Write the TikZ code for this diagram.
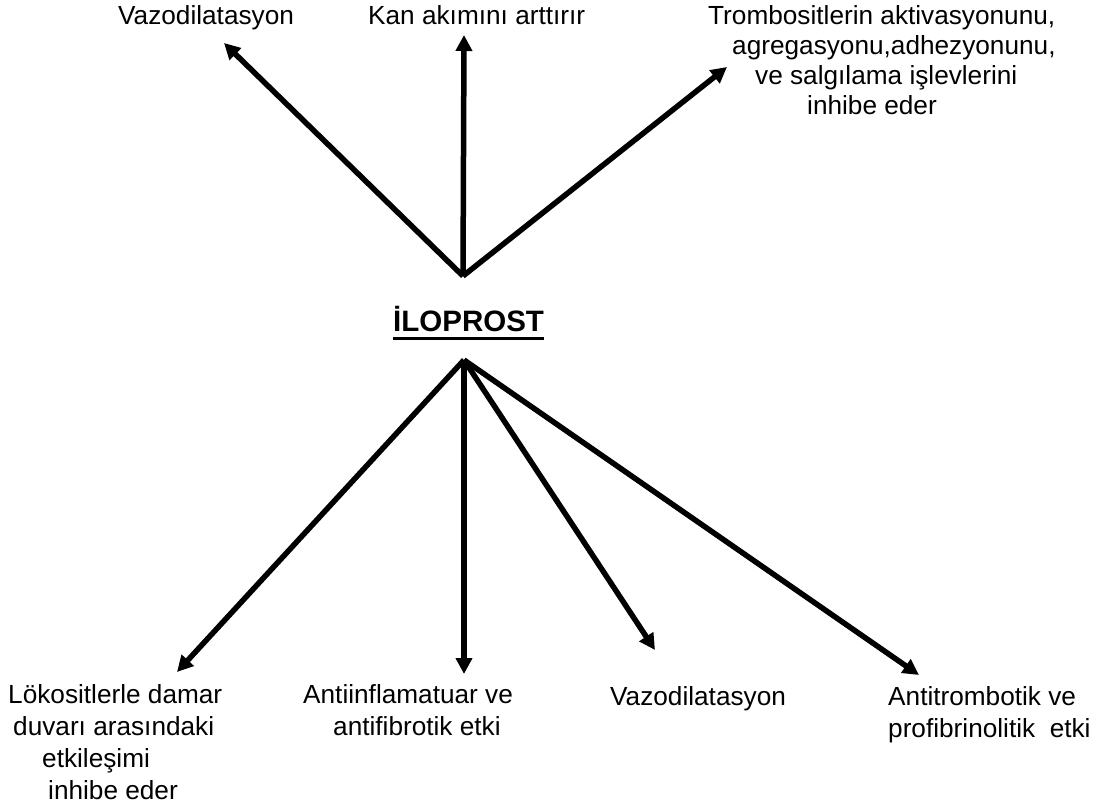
\documentclass[tikz,border=0pt]{standalone}
\usepackage{fontspec}
\setmainfont{Liberation Sans}
\usetikzlibrary{arrows.meta}
\begin{document}
\begin{tikzpicture}[x=1pt,y=-1pt,
  lbltop/.style={inner sep=0pt, anchor=base west, font=\fontsize{26.2}{30}\selectfont},
  lblbot/.style={inner sep=0pt, anchor=base west, font=\fontsize{26.2}{32}\selectfont},
  arr/.style={line width=5.5pt, -{Triangle[length=16pt,width=16pt]}}]
\useasboundingbox (0,0) rectangle (1104,805);
% text
\node[lbltop] (t1) at (118,25) {Vazodilatasyon};
\node[lbltop] (t2) at (368,25) {Kan akımını arttırır};
\node[lbltop] (t3) at (708,25) {\vtop{\hbox{Trombositlerin aktivasyonunu,}\hbox{\hspace*{24pt}agregasyonu,adhezyonunu,}\hbox{\hspace*{47pt}ve salgılama işlevlerini}\hbox{\hspace*{99pt}inhibe eder}}};
\node[inner sep=0pt, anchor=base west, font=\fontsize{29.5}{34}\selectfont\bfseries] (ilo) at (393,332) {İLOPROST};
\draw[line width=3pt] ([yshift=-7pt]ilo.base west) -- ([yshift=-7pt]ilo.base east);
\node[lblbot] (b1) at (8,703) {\vtop{\hbox{Lökositlerle damar}\hbox{\hspace*{5pt}duvarı arasındaki}\hbox{\hspace*{34pt}etkileşimi}\hbox{\hspace*{40pt}inhibe eder}}};
\node[lblbot] (b2) at (303,703) {\vtop{\hbox{Antiinflamatuar ve}\hbox{\hspace*{30pt}antifibrotik etki}}};
\node[lblbot] (b3) at (610,705) {Vazodilatasyon};
\node[lblbot] (b4) at (888,705) {\vtop{\hbox{Antitrombotik ve}\hbox{profibrinolitik\ \ etki}}};
% hubs and tips
\coordinate (up) at (463,276);
\coordinate (dn) at (464,360);
\coordinate (u1) at (224,43);
\coordinate (u2) at (464,35);
\coordinate (u3) at (727,67);
\coordinate (d1) at (177,672);
\coordinate (d2) at (464,674);
\coordinate (d3) at (655,650);
\coordinate (d4) at (919,675);
\draw[arr] (up) -- (u1);
\draw[arr] (up) -- (u2);
\draw[arr] (up) -- (u3);
\draw[arr] (dn) -- (d1);
\draw[arr] (dn) -- (d2);
\draw[arr] (dn) -- (d3);
\draw[arr] (dn) -- (d4);
\end{tikzpicture}
\end{document}
